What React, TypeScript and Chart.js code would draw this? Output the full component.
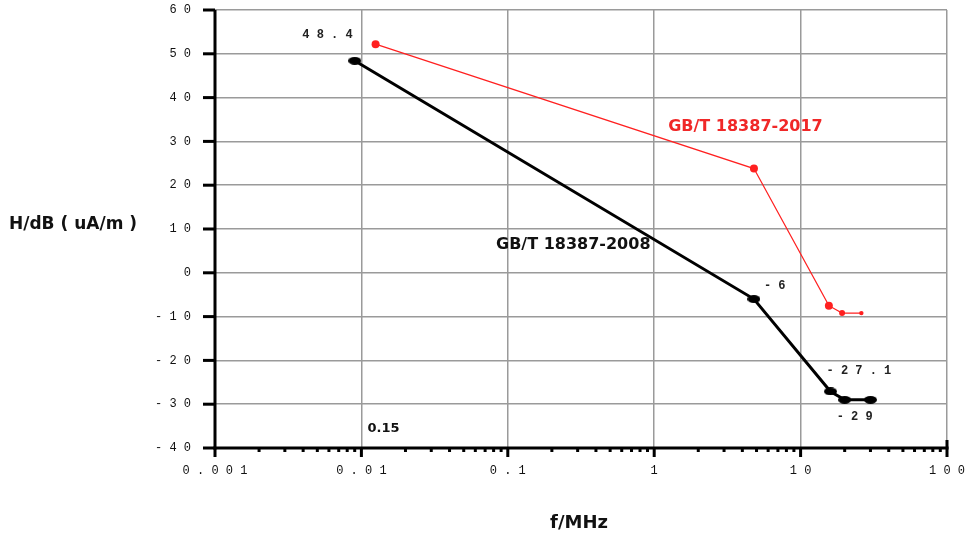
import React, { useEffect, useRef } from 'react';
import { Chart, registerables } from 'chart.js';

Chart.register(...registerables);

// ---- data ----
const freq2008 = [0.009, 4.8, 16, 20, 30];
const level2008 = [48.4, -6, -27.1, -29, -29];
const freq2017 = [0.0125, 4.8, 15.6, 19.2, 26];
const level2017 = [52.2, 23.8, -7.5, -9.2, -9.2];
const label2008 = 'GB/T 18387-2008';
const label2017 = 'GB/T 18387-2017';
const xTitle = 'f/MHz';
const yTitle = 'H/dB ( uA/m )';
const xMin = 0.001;
const xMax = 100;
const yMin = -40;
const yMax = 60;
const yStep = 10;
const noteTexts2008 = ['48.4', '-6', '-27.1', '-29'];
const freeNote = '0.15';

const spaced = (s: string) => s.split('').join(' ');

function makeEllipse(w: number, h: number, color: string) {
  const c = document.createElement('canvas');
  c.width = w;
  c.height = h;
  const g = c.getContext('2d')!;
  g.fillStyle = color;
  g.beginPath();
  g.ellipse(w / 2, h / 2, w / 2, h / 2, 0, 0, Math.PI * 2);
  g.fill();
  return c;
}

const isDecade = (v: number) => {
  const l = Math.log10(v);
  return Math.abs(l - Math.round(l)) < 1e-9;
};

const decorPlugin = {
  id: 'decor',
  beforeDatasetsDraw(chart: any) {
    const { ctx, chartArea: a, scales } = chart;
    const xs = scales.x;
    const ys = scales.y;
    ctx.save();
    ctx.fillStyle = '#000';
    for (let v = yMin; v <= yMax; v += yStep) {
      const py = ys.getPixelForValue(v);
      ctx.fillRect(a.left - 12, py - 1.5, 12, 3);
    }
    for (let e = Math.log10(xMin); e <= Math.log10(xMax); e++) {
      const base = Math.pow(10, e);
      const px = xs.getPixelForValue(base);
      ctx.fillRect(px - 1.5, a.bottom, 3, 9);
      if (base < xMax) {
        for (let m = 2; m <= 9; m++) {
          const p = xs.getPixelForValue(base * m);
          ctx.fillRect(p - 1.5, a.bottom, 3, 4);
        }
      }
    }
    ctx.fillRect(a.right - 1.5, a.bottom - 8, 3, 8);
    ctx.fillRect(a.left - 1.5, a.top, 3, a.bottom - a.top + 1.5);
    ctx.fillRect(a.left - 1.5, a.bottom - 1.5, a.right - a.left + 3, 3);
    ctx.restore();
  },
  afterDatasetsDraw(chart: any) {
    const { ctx, scales } = chart;
    const xs = scales.x;
    const ys = scales.y;
    const P = (x: number, y: number) => [xs.getPixelForValue(x), ys.getPixelForValue(y)];
    ctx.save();
    ctx.textBaseline = 'middle';
    ctx.fillStyle = '#222';
    ctx.font = 'bold 12px "Liberation Mono"';
    const offs = [
      [-2, -26, 'right'],
      [10, -13, 'left'],
      [-4, -21, 'left'],
      [-8, 17, 'left'],
    ];
    noteTexts2008.forEach((t, i) => {
      const [px, py] = P(freq2008[i], level2008[i]);
      const o = offs[i] as any;
      ctx.textAlign = o[2];
      ctx.fillText(spaced(t), px + o[0], py + o[1]);
    });
    ctx.font = 'bold 13px "DejaVu Sans"';
    ctx.textAlign = 'left';
    ctx.fillStyle = '#111';
    const [fx, fy] = P(0.011, -35.5);
    ctx.fillText(freeNote, fx, fy);
    ctx.font = 'bold 16px "DejaVu Sans"';
    ctx.textAlign = 'center';
    ctx.fillStyle = '#f02828';
    const [rx, ry] = P(4.2, 33.3);
    ctx.fillText(label2017, rx, ry);
    ctx.fillStyle = '#111';
    const [bx, by] = P(0.28, 6.3);
    ctx.fillText(label2008, bx, by);
    ctx.font = 'bold 17px "DejaVu Sans"';
    ctx.textAlign = 'left';
    ctx.fillText(yTitle, 9, 225);
    ctx.font = 'bold 18px "DejaVu Sans"';
    ctx.textAlign = 'center';
    ctx.fillText(xTitle, 579, 523);
    ctx.restore();
  },
};

export default function App() {
  const ref = useRef<HTMLCanvasElement>(null);
  useEffect(() => {
    const blackDot = makeEllipse(13, 8, '#000');
    const chart = new Chart(ref.current!, {
      type: 'scatter',
      data: {
        datasets: [
          {
            label: label2008,
            data: freq2008.map((f, i) => ({ x: f, y: level2008[i] })),
            showLine: true,
            borderColor: '#000',
            backgroundColor: '#000',
            borderWidth: 3,
            pointStyle: blackDot as any,
            pointRadius: 5,
          },
          {
            label: label2017,
            data: freq2017.map((f, i) => ({ x: f, y: level2017[i] })),
            showLine: true,
            borderColor: '#ff2020',
            backgroundColor: '#ff2020',
            borderWidth: 1.2,
            pointRadius: [4, 4, 4, 3, 2.2],
            pointBorderWidth: 0,
          },
        ],
      },
      options: {
        animation: false,
        responsive: false,
        devicePixelRatio: 1,
        layout: { padding: { top: 10, right: 20, left: 0, bottom: 0 } },
        plugins: { legend: { display: false }, tooltip: { enabled: false }, title: { display: false } },
        scales: {
          x: {
            type: 'logarithmic',
            min: xMin,
            max: xMax,
            afterFit: (s: any) => {
              s.height = 92;
              s.paddingLeft = 0;
              s.paddingRight = 0;
            },
            border: { display: false },
            grid: {
              drawTicks: false,
              lineWidth: 1.5,
              color: (c: any) => (c.tick && isDecade(c.tick.value) ? '#9a9a9a' : 'rgba(0,0,0,0)'),
            },
            ticks: {
              autoSkip: false,
              maxRotation: 0,
              padding: 16,
              color: '#111',
              font: { family: '"Liberation Mono"', size: 12 },
              callback: (v: any) => (isDecade(Number(v)) ? spaced(String(Number(v))) : ''),
            },
          },
          y: {
            min: yMin,
            max: yMax,
            afterFit: (s: any) => {
              s.width = 215;
              s.paddingTop = 0;
              s.paddingBottom = 0;
            },
            border: { display: false },
            grid: { drawTicks: false, lineWidth: 1.5, color: '#9a9a9a' },
            ticks: {
              stepSize: yStep,
              padding: 24,
              color: '#111',
              font: { family: '"Liberation Mono"', size: 12 },
              callback: (v: any) => spaced(String(v)),
            },
          },
        },
      },
      plugins: [decorPlugin],
    });
    return () => chart.destroy();
  }, []);
  return (
    <div style={{ position: 'absolute', left: 0, top: 0, width: 967, height: 540, background: '#fff' }}>
      <canvas ref={ref} width={967} height={540} style={{ display: 'block' }} />
    </div>
  );
}
